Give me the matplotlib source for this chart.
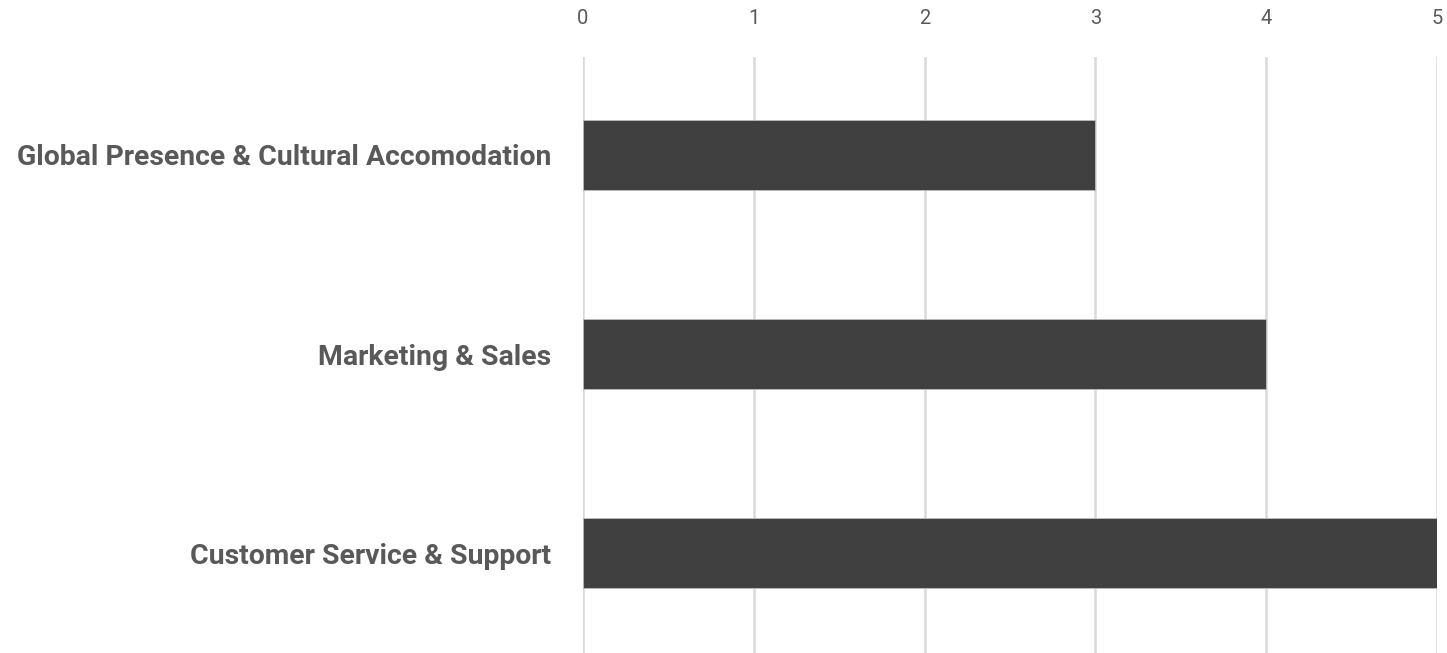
import matplotlib
matplotlib.use("Agg")
import matplotlib.pyplot as plt

categories = ["Global Presence & Cultural Accomodation", "Marketing & Sales", "Customer Service & Support"]
values = [3, 4, 5]
xticks = [0, 1, 2, 3, 4, 5]

W, H = 1447, 653
fig = plt.figure(figsize=(W / 100, H / 100), dpi=100)
ax = fig.add_axes([583 / W, 0, (1437 - 583) / W, (H - 57) / H])

ypos = list(range(len(categories)))
ax.barh(ypos, values, height=0.35, color="#404040", edgecolor="#bdbdbd", linewidth=0.6, zorder=3)
ax.set_xlim(0, 5)
ax.set_ylim(2.5, -0.49)
ax.set_xticks(xticks)
ax.set_xticklabels([str(t) for t in xticks])
ax.set_yticks(ypos)
ax.set_yticklabels(categories)
ax.xaxis.tick_top()
ax.tick_params(axis="x", length=0, pad=21, labelsize=14.5, labelcolor="#595959")
ax.tick_params(axis="y", length=0, pad=23, labelsize=20.4, labelcolor="#595959")
for lab in ax.get_xticklabels():
    lab.set_fontfamily("Roboto")
for lab in ax.get_yticklabels():
    lab.set_fontfamily("Roboto")
    lab.set_fontweight("bold")
ax.grid(axis="x", color="#d9d9d9", linewidth=1.8, zorder=0)
ax.grid(axis="y", visible=False)
for s in ax.spines.values():
    s.set_visible(False)

fig.savefig("out.png", dpi=100)
